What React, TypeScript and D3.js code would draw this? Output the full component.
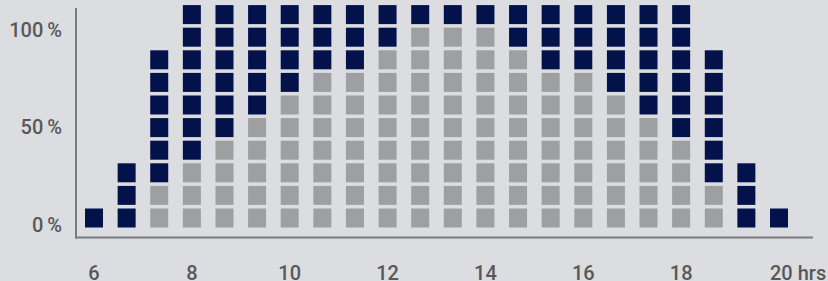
import React from 'react';
import * as d3 from 'd3';

// one column every 40 minutes, 6:00 to 20:00
const slotHours = [
  6, 6.667, 7.333, 8, 8.667, 9.333, 10, 10.667, 11.333, 12, 12.667,
  13.333, 14, 14.667, 15.333, 16, 16.667, 17.333, 18, 18.667, 19.333, 20,
];
const grayCounts = [0, 0, 2, 3, 4, 5, 6, 7, 7, 8, 9, 9, 9, 8, 7, 7, 6, 5, 4, 2, 0, 0];
const navyCounts = [1, 3, 6, 7, 6, 5, 4, 3, 3, 2, 1, 1, 1, 2, 3, 3, 4, 5, 6, 6, 3, 1];

const xTicks = [6, 8, 10, 12, 14, 16, 18, 20];
const yTicks = [0, 50, 100];

const W = 828;
const H = 281;
const BG = '#dcdde0';
const NAVY = '#04124c';
const GRAY = '#9e9fa1';
const AXIS = '#7b7b7d';
const TEXT = '#58585a';

const App = () => {
  const x = d3.scaleLinear().domain([6, 20]).range([94, 779]);
  // rows of squares, 10 per full column
  const row = d3.scaleLinear().domain([0, 10]).range([229.3, 3.3]);
  const pct = d3.scaleLinear().domain([0, 100]).range([225, 29.5]);

  const sqW = 18;
  const pitch = row(0) - row(1);
  const sqH = 19;
  const gap = pitch - sqH;

  const cells: { key: string; x: number; y: number; fill: string }[] = [];
  slotHours.forEach((h, i) => {
    const g = grayCounts[i];
    const n = navyCounts[i];
    for (let r = 0; r < g + n; r++) {
      cells.push({
        key: `${i}-${r}`,
        x: x(h) - sqW / 2,
        y: row(r + 1) + gap / 2,
        fill: r < g ? GRAY : NAVY,
      });
    }
  });

  return (
    <div style={{ position: 'fixed', left: 0, top: 0, width: W, height: H, background: BG }}>
      <svg width={W} height={H} style={{ display: 'block', fontFamily: 'Roboto, sans-serif' }}>
        <rect width={W} height={H} fill={BG} />
        {cells.map((c) => (
          <rect key={c.key} x={c.x} y={c.y} width={sqW} height={sqH} fill={c.fill} />
        ))}
        <line x1={76} x2={76} y1={8} y2={238.5} stroke={AXIS} strokeWidth={2} />
        <line x1={75} x2={813} y1={237.5} y2={237.5} stroke={AXIS} strokeWidth={2} />
        {yTicks.map((t) => (
          <text
            key={t}
            x={62}
            y={pct(t)}
            dy="0.35em"
            textAnchor="end"
            fontSize={20}
            fontWeight={500}
            fill={TEXT}
          >
            {t}
            <tspan dx={4}>%</tspan>
          </text>
        ))}
        {xTicks.map((t) => (
          <text
            key={t}
            x={x(t)}
            y={279.5}
            textAnchor={t === 20 ? 'start' : 'middle'}
            dx={t === 20 ? -9 : 0}
            fontSize={20}
            fontWeight={500}
            fill={TEXT}
          >
            {t === 20 ? '20 hrs' : t}
          </text>
        ))}
      </svg>
    </div>
  );
};

export default App;
